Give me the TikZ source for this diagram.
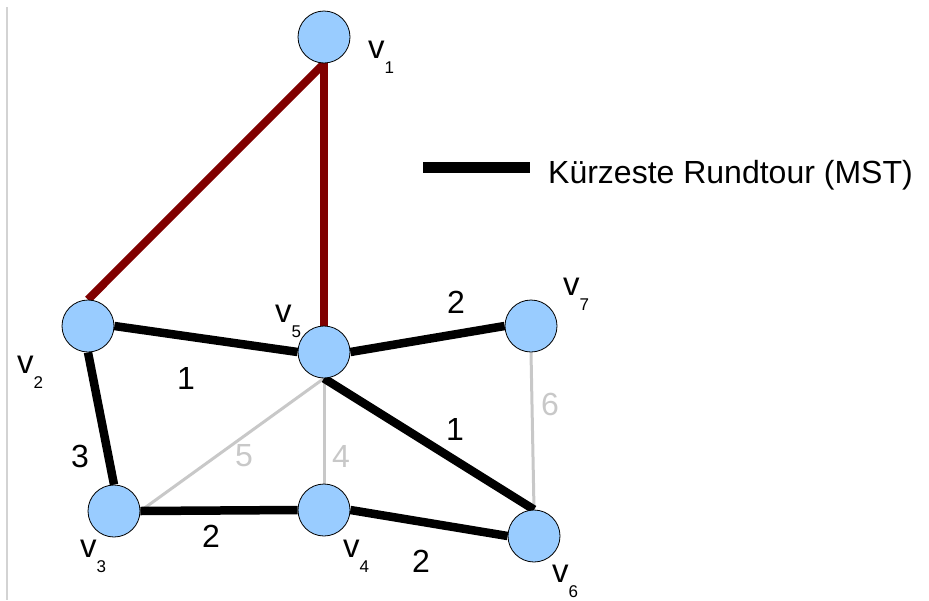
\documentclass[tikz,border=0pt]{standalone}
\usepackage{fontspec}
\setmainfont{Liberation Sans}
\usetikzlibrary{backgrounds}
\definecolor{nodeblue}{HTML}{99CCFF}
\definecolor{tourred}{HTML}{800000}
\definecolor{lightedge}{HTML}{C8C8C8}
\definecolor{frameline}{HTML}{D3D3D3}
\tikzset{
  vertex/.style={circle, draw=black, line width=0.8pt, fill=nodeblue, minimum size=52pt, inner sep=0pt},
  redge/.style={draw=tourred, line width=8pt},
  bedge/.style={draw=black, line width=8.5pt},
  gedge/.style={draw=lightedge, line width=3pt},
  vlabel/.style={anchor=base west, inner sep=0pt, font=\fontsize{33}{36}\selectfont},
  wlabel/.style={inner sep=0pt, font=\fontsize{32}{36}\selectfont},
  glabel/.style={wlabel, text=lightedge},
}
\newcommand{\vsub}[1]{v\raisebox{-15pt}{\fontsize{17}{17}\selectfont #1}}
\begin{document}
\begin{tikzpicture}[x=1pt,y=-1pt]
\useasboundingbox (0,0) rectangle (929,600);
\draw[frameline, line width=2pt] (7,7) -- (7,600);
% vertices
\node[vertex] (v1) at (324,37) {};
\node[vertex] (v2) at (88,326) {};
\node[vertex] (v3) at (114,511) {};
\node[vertex] (v4) at (324,510) {};
\node[vertex] (v5) at (324,352) {};
\node[vertex] (v6) at (534,536) {};
\node[vertex] (v7) at (531,326) {};
% edges
\begin{scope}[on background layer]
\draw[redge] (v1.south) -- (v2.north);
\draw[redge] (v1.south) -- (v5.north);
\draw[gedge] (v3.east) -- (v5.south);
\draw[gedge] (v4.north) -- (v5.south);
\draw[gedge] (v7.south) -- (v6.north);
\draw[bedge] (v2.east) -- (v5.west);
\draw[bedge] (v2.south) -- (v3.north);
\draw[bedge] (v3.east) -- (v4.west);
\draw[bedge] (v5.east) -- (v7.west);
\draw[bedge] (v5.south) -- (v6.north);
\draw[bedge] (v4.east) -- (v6.west);
\end{scope}
% vertex labels
\node[vlabel] (l1) at (368,58) {\vsub{1}};
\node[vlabel] (l2) at (17,373) {\vsub{2}};
\node[vlabel] (l3) at (80,557) {\vsub{3}};
\node[vlabel] (l4) at (343,557) {\vsub{4}};
\node[vlabel] (l5) at (275,322) {\vsub{5}};
\node[vlabel] (l6) at (552,582) {\vsub{6}};
\node[vlabel] (l7) at (563,295) {\vsub{7}};
% edge weights
\node[wlabel] (w25) at (186,378) {1};
\node[wlabel] (w23) at (80,456) {3};
\node[glabel] (w35) at (244,456) {5};
\node[wlabel] (w34) at (211,536) {2};
\node[wlabel] (w57) at (456,302) {2};
\node[wlabel] (w56) at (455,429) {1};
\node[glabel] (w76) at (550,404) {6};
\node[glabel] (w45) at (341,456) {4};
\node[wlabel] (w46) at (421,561) {2};
% legend
\fill[black] (423,162) rectangle (530,173);
\node[anchor=base west, inner sep=0pt, font=\fontsize{32}{36}\selectfont] (legend) at (548,183) {Kürzeste Rundtour (MST)};
\end{tikzpicture}
\end{document}
